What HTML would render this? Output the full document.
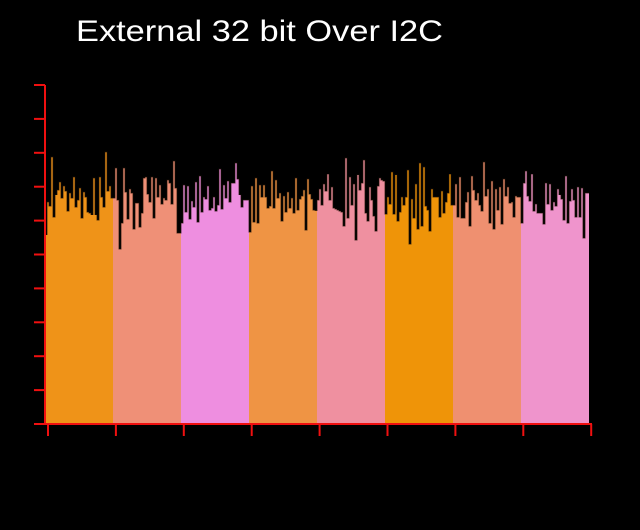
<!DOCTYPE html>
<html><head><meta charset="utf-8"><style>
html,body{margin:0;padding:0;background:#000;}
svg{display:block;}
</style></head><body>
<svg id="chart" width="640" height="530" xmlns="http://www.w3.org/2000/svg">
<rect x="0" y="0" width="640" height="530" fill="#000"/>
<text x="76" y="41" fill="#fff" font-family="Liberation Sans, sans-serif" font-size="30" textLength="367" lengthAdjust="spacingAndGlyphs">External 32 bit Over I2C</text>
<g id="bars" shape-rendering="crispEdges"></g>
<g id="axes"></g>
</svg>
<script>
const seg1=[5.58,6.55,6.43,7.88,6.11,6.76,6.90,7.14,6.67,7.02,6.87,6.28,6.81,6.67,7.29,6.40,6.61,6.96,6.08,6.84,6.70,6.25,6.22,6.17,7.26,6.17,6.02,7.29,6.70,6.40,8.02,6.87,7.02,6.67];
const seg2=[6.67,7.55,6.61,5.16,5.93,7.55,6.84,6.05,6.93,6.81,5.75,6.52,6.52,5.81,6.22,7.26,7.29,6.78,6.55,7.29,6.08,7.26,6.70,7.05,6.49,6.67,6.61,7.20,7.11,6.49,7.76,6.96,5.63,5.63];
const seg3=[5.93,7.05,6.25,7.02,6.05,6.58,6.40,7.14,5.96,7.32,6.25,6.70,6.64,7.02,6.31,6.37,6.70,6.28,6.46,7.52,6.34,7.05,6.67,7.17,6.55,7.11,7.11,7.70,7.23,6.76,6.40,6.61,6.61,6.61];
const seg4=[5.66,7.02,5.96,7.26,5.93,7.05,6.70,7.05,6.70,6.37,6.43,7.46,6.37,7.20,6.67,6.81,5.99,6.73,6.25,6.84,6.37,6.67,6.22,7.26,6.31,6.64,6.73,6.90,5.72,7.23,6.78,6.64,6.31,6.30];
const seg5=[6.61,6.93,6.46,7.08,6.87,7.37,6.61,6.99,6.37,6.34,6.31,6.28,6.25,5.84,7.85,6.08,7.29,6.46,7.08,5.43,7.35,6.90,7.11,7.79,6.22,5.99,6.99,6.61,6.14,5.69,7.02,7.26,7.20,7.17];
const seg6=[6.19,6.70,6.49,7.43,6.19,7.35,5.99,6.25,6.70,6.46,6.70,7.49,5.31,6.64,6.08,7.08,5.75,7.70,5.84,7.58,6.43,6.31,5.69,6.93,6.70,6.70,6.70,6.11,6.87,6.22,6.55,6.81,7.37,6.46];
const seg7=[6.46,7.08,6.11,7.29,6.08,6.08,6.55,6.84,5.84,7.32,6.90,6.61,6.81,6.46,6.28,7.73,6.73,6.93,5.93,7.17,5.75,6.93,6.31,6.99,5.90,7.23,6.73,6.99,6.52,6.55,6.11,6.73,6.70,6.70];
const seg8=[5.93,7.11,7.46,6.73,6.58,7.37,6.28,6.49,6.22,6.22,6.22,5.90,7.11,6.49,7.08,6.31,6.55,6.43,6.93,6.76,6.64,6.02,7.32,5.93,6.58,6.93,6.61,6.11,6.99,6.11,6.96,5.49,6.81,6.81];
const segments=[seg1,seg2,seg3,seg4,seg5,seg6,seg7,seg8];
const segColors=["#ef9318","#ef9077","#ee8ee0","#ef9444","#ef90a0","#ef9408","#ef9070","#ef94cc"];
const yTicks=[0,1,2,3,4,5,6,7,8,9,10];
const xTicks=[0,1,2,3,4,5,6,7,8];

const NS="http://www.w3.org/2000/svg";
const X0=45,X1=589,Y0=424,Y1=85,YMAX=10;
const total=segments.reduce((a,s)=>a+s.length,0);
function xs(i){return X0+(X1-X0)*i/total;}
function ys(v){return Y0-(Y0-Y1)*v/YMAX;}
const bars=document.getElementById('bars');
let idx=0;
let d='';
segments.forEach((seg,si)=>{
  seg.forEach((v,j)=>{
    const r=document.createElementNS(NS,'rect');
    
    
    const x=xs(idx),w=xs(idx+1)-x;
    r.setAttribute('x',x);r.setAttribute('width',w);
    r.setAttribute('y',ys(v));r.setAttribute('height',Y0-ys(v));
    r.setAttribute('fill',segColors[si]);
    bars.appendChild(r);
    d+=(idx===0?'M':'L')+x+','+ys(v)+'L'+(x+w)+','+ys(v);
    idx++;
  });
});
const outline=document.createElementNS(NS,'path');


outline.setAttribute('d',d);
outline.setAttribute('fill','none');
outline.setAttribute('stroke','rgba(30,15,5,0.7)');
outline.setAttribute('stroke-width','0.8');
bars.appendChild(outline);
const axes=document.getElementById('axes');
function line(x1,y1,x2,y2,name,w){
  const l=document.createElementNS(NS,'line');
  
  
  l.setAttribute('x1',x1);l.setAttribute('y1',y1);l.setAttribute('x2',x2);l.setAttribute('y2',y2);
  l.setAttribute('stroke','#f01010');l.setAttribute('stroke-width',w);
  axes.appendChild(l);
}
line(45,Y1,45,Y0+1,'y-axis-line',2);
line(44,Y0,592,Y0,'x-axis-line',2);
yTicks.forEach(t=>{line(34,ys(t),45,ys(t),'y-tick',2);});
xTicks.forEach(t=>{const x=48+t*67.9;line(x,Y0,x,436,'x-tick',2);});
</script>
</body></html>
